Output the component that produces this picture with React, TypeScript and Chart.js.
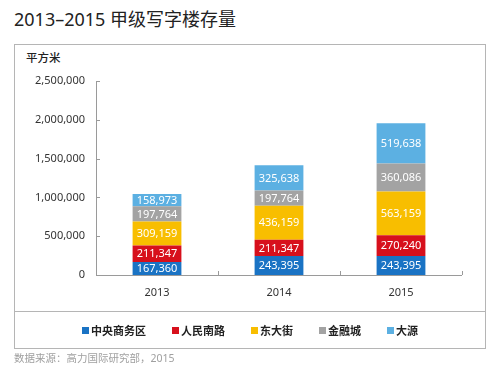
import React, { useEffect, useRef } from "react";
import { Chart, registerables } from "chart.js";

Chart.register(...registerables);

const categories = ["2013", "2014", "2015"];
const seriesNames = ["中央商务区", "人民南路", "东大街", "金融城", "大源"];
const cbd = [167360, 243395, 243395];
const renmin = [211347, 211347, 270240];
const dongda = [309159, 436159, 563159];
const jinrong = [197764, 197764, 360086];
const dayuan = [158973, 325638, 519638];
const seriesColors = ["#1a73c4", "#d7101c", "#f8be00", "#a3a3a3", "#5cb0e2"];
const yTicks = [0, 500000, 1000000, 1500000, 2000000, 2500000];

const FONT = "'Noto Sans', 'Noto Sans CJK SC', sans-serif";

const fmt = (v: number) => v.toLocaleString("en-US");

const labelPlugin = {
  id: "segLabels",
  afterDatasetsDraw(chart: any) {
    const ctx = chart.ctx;
    ctx.save();
    ctx.fillStyle = "#ffffff";
    ctx.font = `11px ${FONT}`;
    ctx.textAlign = "center";
    ctx.textBaseline = "middle";
    chart.data.datasets.forEach((ds: any, i: number) => {
      const meta = chart.getDatasetMeta(i);
      meta.data.forEach((el: any, j: number) => {
        const cy = (el.y + el.base) / 2;
        ctx.fillText(fmt(ds.data[j]), el.x, cy + 0.5);
      });
    });
    ctx.restore();
  },
};

const axisPlugin = {
  id: "innerTicks",
  afterDraw(chart: any) {
    const ctx = chart.ctx;
    const { left, right, bottom } = chart.chartArea;
    const ys = chart.scales.y;
    const xs = chart.scales.x;
    ctx.save();
    ctx.strokeStyle = "#9a9a9a";
    ctx.lineWidth = 1;
    ctx.beginPath();
    const top = ys.getPixelForValue(yTicks[yTicks.length - 1]);
    ctx.moveTo(left + 0.5, Math.round(top));
    ctx.lineTo(left + 0.5, bottom + 0.5);
    ctx.lineTo(right, bottom + 0.5);
    yTicks.forEach((t) => {
      const py = Math.round(ys.getPixelForValue(t)) + 0.5;
      ctx.moveTo(left, py);
      ctx.lineTo(left + 4, py);
    });
    const n = categories.length;
    for (let i = 1; i <= n; i++) {
      const px = Math.round((xs.getPixelForValue(i - 1) + (i < n ? xs.getPixelForValue(i) : 2 * xs.getPixelForValue(i - 1) - xs.getPixelForValue(i - 2))) / 2) + 0.5;
      ctx.moveTo(px, bottom);
      ctx.lineTo(px, bottom - 4);
    }
    ctx.stroke();
    ctx.restore();
  },
};

export default function App() {
  const ref = useRef<HTMLCanvasElement | null>(null);

  useEffect(() => {
    document.body.style.margin = "0";
    const data = [cbd, renmin, dongda, jinrong, dayuan];
    const chart = new Chart(ref.current as HTMLCanvasElement, {
      type: "bar",
      data: {
        labels: categories,
        datasets: data.map((d, i) => ({
          label: seriesNames[i],
          data: d,
          backgroundColor: seriesColors[i],
          borderWidth: 0,
          categoryPercentage: 1,
          barPercentage: 0.4,
        })),
      },
      options: {
        responsive: false,
        animation: false,
        layout: { padding: { left: 14, right: 38, top: 81, bottom: 66 } },
        plugins: { legend: { display: false }, tooltip: { enabled: false } },
        scales: {
          x: {
            stacked: true,
            grid: { display: false, drawTicks: false },
            border: { display: false },
            ticks: { color: "#333", font: { family: FONT, size: 11 }, padding: 11 },
            afterFit: (s: any) => {
              s.height = 30;
            },
          },
          y: {
            stacked: true,
            min: 0,
            max: 2500000,
            grid: { display: false, drawTicks: false },
            border: { display: false },
            ticks: {
              stepSize: 500000,
              color: "#333",
              font: { family: FONT, size: 11 },
              padding: 11,
              callback: (v: any) => fmt(Number(v)),
            },
            afterFit: (s: any) => {
              s.width = 82;
            },
          },
        },
      },
      plugins: [labelPlugin, axisPlugin],
    });
    return () => chart.destroy();
  }, []);

  return (
    <div style={{ position: "fixed", left: 0, top: 0, width: 500, height: 371, background: "#fff", overflow: "hidden" }}>
      <div style={{ position: "absolute", left: 14, top: 7, fontFamily: FONT, fontSize: 18, color: "#222", whiteSpace: "nowrap", lineHeight: "24px" }}>
        2013–2015 甲级写字楼存量
      </div>
      <div style={{ position: "absolute", left: 14, top: 44, width: 470, height: 303, border: "1px solid #b5b5b5" }} />
      <div style={{ position: "absolute", left: 15, top: 311, width: 470, height: 1, background: "#b5b5b5" }} />
      <div style={{ position: "absolute", left: 26, top: 50, fontFamily: FONT, fontSize: 11.5, color: "#222", lineHeight: "16px", fontWeight: 500 }}>
        平方米
      </div>
      <canvas ref={ref} width={500} height={371} style={{ position: "absolute", left: 0, top: 0, width: 500, height: 371 }} />
      <div style={{ position: "absolute", left: 0, top: 321, width: 500, height: 18, display: "flex", justifyContent: "center", alignItems: "center", fontFamily: FONT, fontSize: 11, color: "#222", fontWeight: 600 }}>
        {seriesNames.map((n, i) => (
          <div key={n} style={{ display: "flex", alignItems: "center", marginRight: i < seriesNames.length - 1 ? 26 : 0 }}>
            <span style={{ display: "inline-block", width: 7, height: 7, background: seriesColors[i], marginRight: 2 }} />
            <span>{n}</span>
          </div>
        ))}
      </div>
      <div style={{ position: "absolute", left: 14, top: 350, fontFamily: FONT, fontSize: 10.5, color: "#a0a0a0", whiteSpace: "nowrap", lineHeight: "16px" }}>
        数据来源：高力国际研究部，2015
      </div>
    </div>
  );
}
